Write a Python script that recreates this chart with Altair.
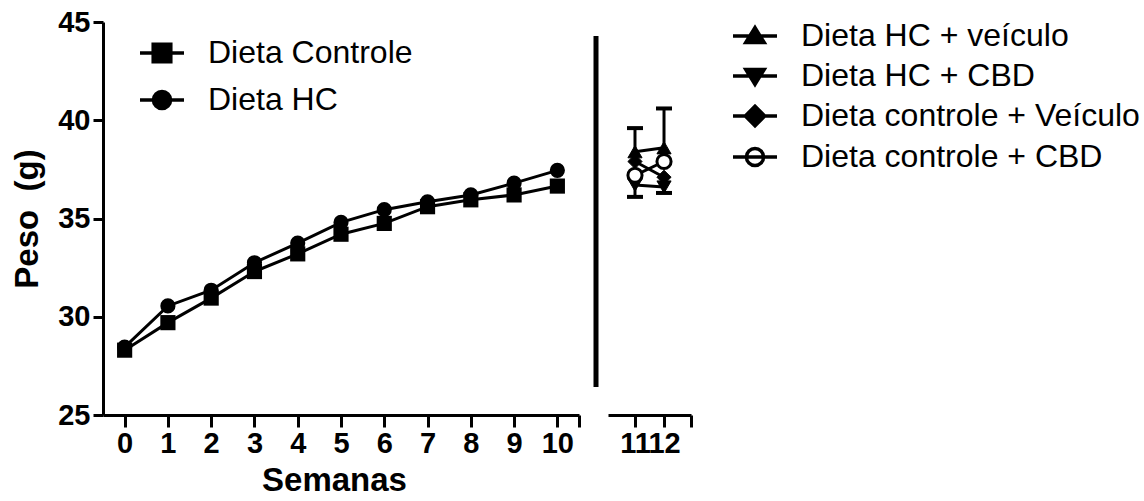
import altair as alt
import pandas as pd

# ---------------- data ----------------
weeks = list(range(11))
controle = [28.3, 29.7, 30.95, 32.3, 33.2, 34.2, 34.75, 35.6, 35.95, 36.2, 36.65]
hc = [28.45, 30.55, 31.35, 32.75, 33.75, 34.8, 35.45, 35.85, 36.2, 36.8, 37.45]
left_series = ["Dieta Controle", "Dieta HC"]

weeks_r = [11, 12]
groups = ["Dieta HC + veículo", "Dieta HC + CBD",
          "Dieta controle + Veículo", "Dieta controle + CBD"]
hc_veiculo = [38.4, 38.6]
hc_cbd = [36.7, 36.6]
ctrl_veiculo = [37.9, 37.1]
ctrl_cbd = [37.2, 37.9]
hc_veiculo_err_hi = [1.2, 2.0]   # upward SEM
hc_cbd_err_lo = [0.6, 0.3]       # downward SEM

y_ticks = [25, 30, 35, 40, 45]

# ---------------- tables ----------------
left_df = pd.DataFrame({
    "week": weeks * 2,
    "peso": controle + hc,
    "serie": [left_series[0]] * len(weeks) + [left_series[1]] * len(weeks),
})

right_vals = [hc_veiculo, hc_cbd, ctrl_veiculo, ctrl_cbd]
right_df = pd.DataFrame({
    "week": weeks_r * 4,
    "peso": sum(right_vals, []),
    "grupo": sum([[g] * 2 for g in groups], []),
})
err_df = pd.DataFrame({
    "week": weeks_r * 2,
    "peso": hc_veiculo + hc_cbd,
    "end": [m + e for m, e in zip(hc_veiculo, hc_veiculo_err_hi)]
           + [m - e for m, e in zip(hc_cbd, hc_cbd_err_lo)],
})

FONT = "Liberation Sans"
PANEL_H = 393

y_scale = alt.Scale(domain=[25, 45], nice=False, zero=False)

# legend symbol paths (line stub + marker)
P_SQUARE = "M-1,0H1M-0.4,-0.4H0.4V0.4H-0.4Z"
P_CIRCLE = "M-1,0H1M0.39,0A0.39,0.39 0 1 1 -0.39,0A0.39,0.39 0 1 1 0.39,0Z"
P_TUP = "M-1,0H1M0,-0.38L0.42,0.3H-0.42Z"
P_TDOWN = "M-1,0H1M0,0.38L0.42,-0.3H-0.42Z"
P_DIAMOND = "M-1,0H1M0,-0.44L0.44,0L0,0.44L-0.44,0Z"

axis_common = dict(
    domainColor="black", domainWidth=3, tickColor="black", tickWidth=3,
    labelColor="black", labelFont=FONT, labelFontWeight="bold", labelFontSize=29,
    titleColor="black", titleFont=FONT, titleFontWeight="bold", grid=False,
)


def legend(x, y, row_pad):
    return alt.Legend(
        orient="none", legendX=x, legendY=y, title=None,
        symbolSize=1936, symbolStrokeWidth=3.5,
        symbolOpacity=1, labelFont=FONT, labelFontSize=32, labelColor="black",
        labelOffset=22, rowPadding=row_pad, padding=0, labelLimit=600,
    )


def legend_layer(df, field, domain, paths, fills, leg, x, y):
    return alt.Chart(df).mark_point(filled=True, opacity=0, strokeWidth=3.5).encode(
        x=x, y=y,
        shape=alt.Shape(f"{field}:N", scale=alt.Scale(domain=domain, range=paths), legend=leg),
        fill=alt.Fill(f"{field}:N", scale=alt.Scale(domain=domain, range=fills), legend=leg),
        stroke=alt.Stroke(f"{field}:N", scale=alt.Scale(domain=domain,
                                                        range=["black"] * len(domain)),
                          legend=leg),
    )


# ---------------- left panel ----------------
x_left = alt.X(
    "week:Q",
    scale=alt.Scale(domain=[-0.5, 10.5], nice=False, zero=False),
    axis=alt.Axis(values=weeks + [10.5], labelExpr="datum.value > 10 ? '' : datum.label",
                  title="Semanas", titleFontSize=33, titleX=231, tickSize=12, labelPadding=2,
                  titlePadding=6, **axis_common),
)
y_left = alt.Y(
    "peso:Q", scale=y_scale,
    axis=alt.Axis(values=y_ticks, title="Peso\u00a0\u00a0(g)", titleFontSize=33, tickSize=10,
                  labelPadding=3, titlePadding=13, **axis_common),
)

base_l = alt.Chart(left_df)
lines_l = base_l.mark_line(color="black", strokeWidth=3).encode(
    x=x_left, y=y_left, detail="serie:N")
pts_l = [
    base_l.transform_filter(alt.datum.serie == s).mark_point(
        filled=True, color="black", size=230, opacity=1, shape=shp).encode(x=x_left, y=y_left)
    for s, shp in zip(left_series, ["square", "circle"])
]
legend_l = legend_layer(left_df, "serie", left_series, [P_SQUARE, P_CIRCLE],
                        ["black", "black"], legend(35, 7, 7), x_left, y_left)
left = alt.layer(lines_l, *pts_l, legend_l).properties(width=476, height=PANEL_H)

# ---------------- right panel ----------------
x_right = alt.X(
    "week:Q",
    scale=alt.Scale(domain=[10.07, 12.93], nice=False, zero=False),
    axis=alt.Axis(values=weeks_r + [12.93], labelExpr="datum.value > 12 ? '' : datum.label",
                  title=None, tickSize=12, labelPadding=2, **axis_common),
)
y_right = alt.Y("peso:Q", scale=y_scale, axis=None)

base_r = alt.Chart(right_df)
vline = alt.Chart(pd.DataFrame({"k": [0]})).mark_rule(color="black", strokeWidth=5).encode(
    x=alt.value(-12), y=alt.value(14), y2=alt.value(365))
lines_r = base_r.mark_line(color="black", strokeWidth=3).encode(
    x=x_right, y=y_right, detail="grupo:N")
err_r = alt.Chart(err_df).mark_rule(color="black", strokeWidth=3).encode(
    x=x_right, y=y_right, y2="end:Q")
caps_r = alt.Chart(err_df).mark_tick(color="black", thickness=4, size=16, opacity=1,
                                     orient="horizontal").encode(
    x=x_right, y=alt.Y("end:Q", scale=y_scale, axis=None))
shapes_r = ["triangle-up", "triangle-down", "diamond", "circle"]
fills_r = ["black", "black", "black", "white"]
pts_r = [
    base_r.transform_filter(alt.datum.grupo == g).mark_point(
        filled=True, fill=f, stroke="black", strokeWidth=(3 if f == "white" else 1),
        size=200, opacity=1, shape=shp).encode(x=x_right, y=y_right)
    for g, shp, f in zip(groups, shapes_r, fills_r)
]
legend_r = legend_layer(right_df, "grupo", groups, [P_TUP, P_TDOWN, P_DIAMOND, P_CIRCLE],
                        fills_r, legend(123, -10, 0), x_right, y_right)
right = alt.layer(vline, lines_r, err_r, caps_r, *pts_r, legend_r).properties(
    width=83, height=PANEL_H)

chart = alt.hconcat(left, right, spacing=29, bounds="flush").resolve_scale(
    shape="independent", fill="independent", stroke="independent",
    x="independent", y="independent",
).resolve_legend(shape="independent", fill="independent", stroke="independent").properties(
    padding={"left": 11, "top": 8, "right": 0, "bottom": 0},
    background="white",
).configure(font=FONT).configure_view(stroke="transparent", strokeWidth=0)

chart.save("out.html", embed_options={"renderer": "svg", "actions": False})
